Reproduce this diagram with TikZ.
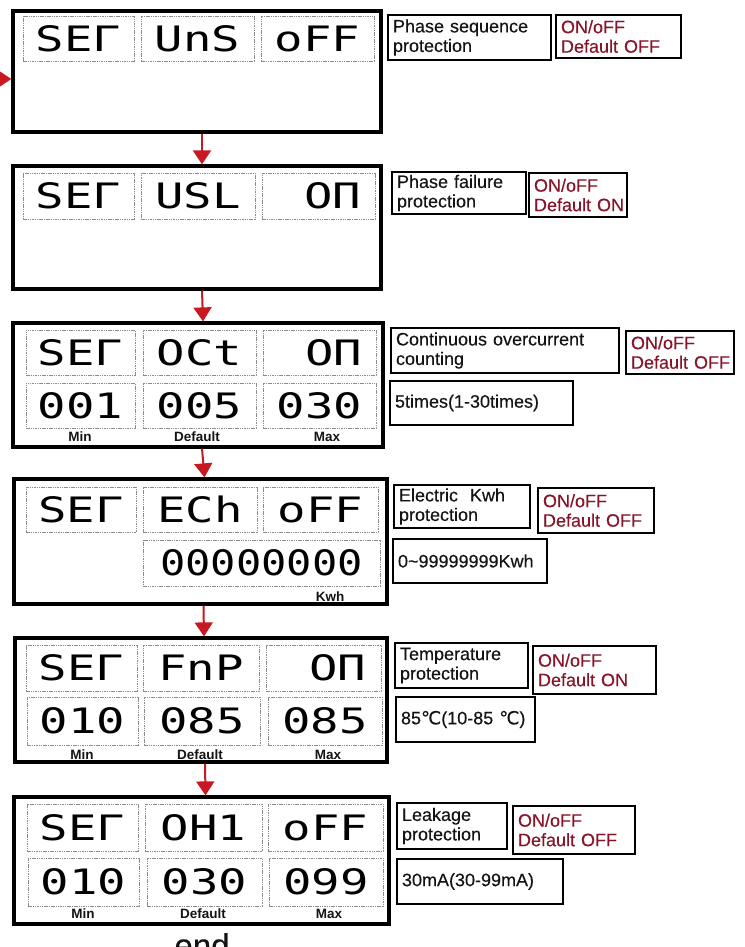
\documentclass[tikz,border=0pt]{standalone}
\usepackage{fontspec}
\setmainfont{Liberation Sans}
\newfontfamily\infofont{Liberation Sans}[FakeBold=0.3]
\newfontfamily\segfont{DejaVu Sans Mono}
\newfontfamily\dvfont{DejaVu Sans}[FakeBold=0.3]
\usetikzlibrary{arrows.meta}
\definecolor{arrred}{RGB}{200,25,35}
\definecolor{txtred}{RGB}{135,20,40}
\definecolor{txtdark}{RGB}{20,20,20}
\newcommand{\segtxt}[1]{\scalebox{1.35}[1]{#1}}
\newcommand{\segwide}[1]{\scalebox{1.2}[1]{#1}}
\newcommand{\twolines}[2]{\mbox{#1}\\\mbox{#2}}
\begin{document}
\begin{tikzpicture}[x=1pt,y=-1pt,
 mainbox/.style={draw=black, line width=3.2pt, rectangle, inner sep=0pt},
 cellbox/.style={draw=black!45, line width=0.8pt, dash pattern=on 1.5pt off 0.8pt, inner sep=0pt, font=\segfont\fontsize{35}{35}\selectfont, text=black},
 infobox/.style={draw=black, line width=1.8pt, inner xsep=5pt, inner ysep=0pt, align=left, font=\infofont\fontsize{18}{19.5}\selectfont, text=txtdark},
 onoff/.style={infobox, text=txtred},
 lbl/.style={font=\bfseries\fontsize{13.5}{14}\selectfont, inner sep=0pt, text=txtdark},
 flow/.style={draw=arrred, line width=2pt, -{Triangle[width=18pt,length=14pt]}, arrred},
]
\clip (0,0) rectangle (744,947);
\fill[white] (0,0) rectangle (744,947);

% ---------- main boxes ----------
\node[mainbox, minimum width=368pt, minimum height=121pt] (b1) at (197,71.5) {};
\node[mainbox, minimum width=368pt, minimum height=123pt] (b2) at (197,227.5) {};
\node[mainbox, minimum width=370pt, minimum height=124pt] (b3) at (198,385) {};
\node[mainbox, minimum width=373pt, minimum height=125pt] (b4) at (200.5,541.5) {};
\node[mainbox, minimum width=372pt, minimum height=124pt] (b5) at (201,700) {};
\node[mainbox, minimum width=375pt, minimum height=127pt] (b6) at (201.5,860.5) {};

% ---------- box 1 ----------
\node[cellbox, minimum width=111pt, minimum height=45pt] (c1a) at (78.5,38.5) {\segtxt{SEΓ}};
\node[cellbox, minimum width=113pt, minimum height=45pt] (c1b) at (197.5,38.5) {\segtxt{UnS}};
\node[cellbox, minimum width=113pt, minimum height=45pt] (c1c) at (317.5,38.5) {\segtxt{oFF}};

% ---------- box 2 ----------
\node[cellbox, minimum width=111pt, minimum height=46pt] (c2a) at (78.5,196) {\segtxt{SEΓ}};
\node[cellbox, minimum width=114pt, minimum height=46pt] (c2b) at (198,196) {\segtxt{USL}};
\node[cellbox, minimum width=113pt, minimum height=46pt] (c2c) at (318.5,196) {\segtxt{\ OΠ}};

% ---------- box 3 ----------
\node[cellbox, minimum width=109pt, minimum height=45pt] (c3a) at (80.5,352.5) {\segtxt{SEΓ}};
\node[cellbox, minimum width=113pt, minimum height=45pt] (c3b) at (199.5,352.5) {\segtxt{OCt}};
\node[cellbox, minimum width=113pt, minimum height=45pt] (c3c) at (319.5,352.5) {\segtxt{\ OΠ}};
\node[cellbox, minimum width=109pt, minimum height=45pt] (c3d) at (80.5,405.5) {\segtxt{001}};
\node[cellbox, minimum width=113pt, minimum height=45pt] (c3e) at (199.5,405.5) {\segtxt{005}};
\node[cellbox, minimum width=113pt, minimum height=45pt] (c3f) at (319.5,405.5) {\segtxt{030}};
\node[lbl] (l3a) at (80,437) {Min};
\node[lbl] (l3b) at (197,437) {Default};
\node[lbl] (l3c) at (327,437) {Max};

% ---------- box 4 ----------
\node[cellbox, minimum width=110pt, minimum height=45pt] (c4a) at (81,509.5) {\segtxt{SEΓ}};
\node[cellbox, minimum width=114pt, minimum height=45pt] (c4b) at (200,509.5) {\segtxt{ECh}};
\node[cellbox, minimum width=115pt, minimum height=45pt] (c4c) at (320.5,509.5) {\segtxt{oFF}};
\node[cellbox, minimum width=237pt, minimum height=46pt] (c4d) at (261.5,563) {\segwide{00000000}};
\node[lbl] (l4) at (330,597) {Kwh};

% ---------- box 5 ----------
\node[cellbox, minimum width=111pt, minimum height=46pt] (c5a) at (81.5,668) {\segtxt{SEΓ}};
\node[cellbox, minimum width=116pt, minimum height=46pt] (c5b) at (201,668) {\segtxt{FnP}};
\node[cellbox, minimum width=115pt, minimum height=46pt] (c5c) at (323.5,668) {\segtxt{\ OΠ}};
\node[cellbox, minimum width=111pt, minimum height=48pt] (c5d) at (82.5,721) {\segtxt{010}};
\node[cellbox, minimum width=116pt, minimum height=48pt] (c5e) at (202,721) {\segtxt{085}};
\node[cellbox, minimum width=114pt, minimum height=48pt] (c5f) at (325,721) {\segtxt{085}};
\node[lbl] (l5a) at (82,755) {Min};
\node[lbl] (l5b) at (200,755) {Default};
\node[lbl] (l5c) at (328,755) {Max};

% ---------- box 6 ----------
\node[cellbox, minimum width=111pt, minimum height=47pt] (c6a) at (82.5,827.5) {\segtxt{SEΓ}};
\node[cellbox, minimum width=117pt, minimum height=47pt] (c6b) at (203.5,827.5) {\segtxt{OH1}};
\node[cellbox, minimum width=115pt, minimum height=47pt] (c6c) at (325.5,827.5) {\segtxt{oFF}};
\node[cellbox, minimum width=111pt, minimum height=48pt] (c6d) at (83.5,882) {\segtxt{010}};
\node[cellbox, minimum width=115pt, minimum height=48pt] (c6e) at (204.5,882) {\segtxt{030}};
\node[cellbox, minimum width=114pt, minimum height=48pt] (c6f) at (326,882) {\segtxt{099}};
\node[lbl] (l6a) at (83,914) {Min};
\node[lbl] (l6b) at (203,914) {Default};
\node[lbl] (l6c) at (329,914) {Max};

% ---------- info boxes ----------
\node[infobox, text width=153pt, minimum height=45pt] (r1a) at (469.5,37.5) {\twolines{Phase sequence}{protection}};
\node[onoff, text width=115pt, minimum height=43pt] (r1b) at (618.5,36.5) {\twolines{ON/oFF}{Default OFF}};

\node[infobox, text width=124pt, minimum height=42pt] (r2a) at (459,193) {\twolines{Phase failure}{protection}};
\node[onoff, text width=88pt, minimum height=44pt] (r2b) at (578,195) {\twolines{ON/oFF}{Default ON}};

\node[infobox, text width=218pt, minimum height=45pt] (r3a) at (505,350.5) {\twolines{Continuous overcurrent}{counting}};
\node[onoff, text width=98pt, minimum height=43pt] (r3b) at (680,352.5) {\twolines{ON/oFF}{Default OFF}};
\node[infobox, text width=173pt, minimum height=44pt] (r3c) at (481.5,403) {5times(1-30times)};

\node[infobox, text width=126pt, minimum height=43pt] (r4a) at (462,506.5) {\twolines{Electric\ \ Kwh}{protection}};
\node[onoff, text width=106pt, minimum height=45pt] (r4b) at (596,510.5) {\twolines{ON/oFF}{Default OFF}};
\node[infobox, text width=144pt, minimum height=44pt] (r4c) at (470,561) {0\textasciitilde 99999999Kwh};

\node[infobox, text width=123pt, minimum height=45pt] (r5a) at (461.5,665.5) {\twolines{Temperature}{protection}};
\node[onoff, text width=113pt, minimum height=48pt] (r5b) at (594.5,670) {\twolines{ON/oFF}{Default ON}};
\node[infobox, text width=129pt, minimum height=45pt] (r5c) at (465.5,719.5) {85{\dvfont ℃}(10-85 {\dvfont ℃})};

\node[infobox, text width=100pt, minimum height=46pt] (r6a) at (452,826) {\twolines{Leakage}{protection}};
\node[onoff, text width=112pt, minimum height=48pt] (r6b) at (574,830) {\twolines{ON/oFF}{Default OFF}};
\node[infobox, text width=156pt, minimum height=45pt] (r6c) at (480,881.5) {30mA(30-99mA)};

% ---------- end ----------
\node[font=\infofont\fontsize{33}{33}\selectfont, anchor=base, inner sep=0pt, text=txtdark] (endtxt) at (202,957) {end};

% ---------- connectors ----------
\coordinate (entry) at (-6,79);
\draw[flow] (entry) -- (entry -| b1.west);
\draw[flow] ([xshift=5pt]b1.south) -- ([xshift=5pt]b2.north);
\draw[flow] ([xshift=5pt]b2.south) -- ([xshift=5pt]b3.north);
\draw[flow] ([xshift=4pt]b3.south) -- ([xshift=4pt]b4.north);
\draw[flow] ([xshift=3pt]b4.south) -- ([xshift=3pt]b5.north);
\draw[flow] ([xshift=4pt]b5.south) -- ([xshift=4pt]b6.north);
\end{tikzpicture}
\end{document}
